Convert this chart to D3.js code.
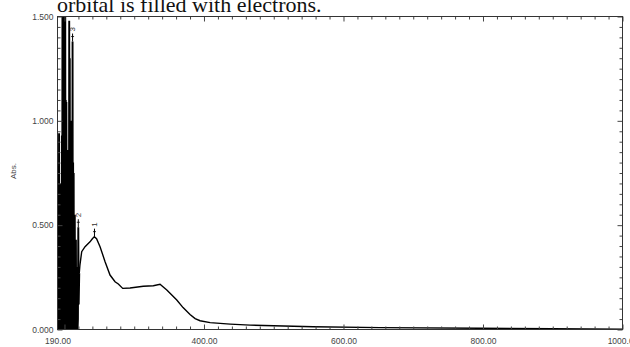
<!DOCTYPE html>
<html>
<head>
<meta charset="utf-8">
<script src="https://cdn.jsdelivr.net/npm/d3@7"></script>
<style>
  body { margin: 0; background: #fff; }
  svg { display: block; }
</style>
</head>
<body>
<div class="spectrum"></div>
<script>
// noisy far-UV region (nm, Abs.)
const noiseWl = [190.0, 190.3, 190.6, 191.0, 191.4, 191.8, 192.2, 192.6, 193.0, 193.4, 193.8, 194.2, 194.6, 195.0,
  195.4, 195.8, 196.3, 196.7, 197.1, 197.5, 197.9, 198.3, 198.7, 199.1, 199.5, 199.9, 200.3, 200.7, 201.1, 201.5,
  201.9, 202.3, 202.7, 203.1, 203.5, 203.9, 204.3, 204.7, 205.1, 205.5, 205.9, 206.3, 206.8, 207.2, 207.6, 208.0,
  208.4, 208.8, 209.2, 209.6, 210.0, 210.4, 210.8, 211.2, 211.6, 212.0, 212.4, 212.8, 213.2, 213.6, 214.0, 214.4,
  214.8, 215.2, 215.6, 216.0, 216.4, 216.8, 217.3, 217.8, 218.3, 218.8, 219.3, 219.8, 220.4, 221.2];
const noiseAbs = [0.00, 0.15, 0.00, 0.17, 0.02, 0.10, 0.94, 0.00, 0.69, 0.03, 0.70, 0.00, 0.66, 0.08,
  0.69, 0.00, 0.93, 0.05, 1.60, 0.00, 1.60, 0.12, 1.60, 0.00, 1.60, 0.25, 1.60, 0.00, 1.55, 0.30,
  1.10, 0.00, 1.09, 0.40, 0.86, 0.00, 0.80, 0.20, 0.86, 0.00, 0.55, 0.05, 1.48, 0.00, 1.30, 0.10,
  0.91, 0.00, 0.88, 0.30, 1.00, 0.00, 0.80, 0.05, 1.38, 0.00, 0.80, 0.10, 0.75, 0.00, 0.55, 0.05,
  0.55, 0.00, 0.43, 0.08, 0.43, 0.00, 0.30, 0.02, 0.12, 0.00, 0.05, 0.49, 0.12, 0.27];

// smooth part of the spectrum
const curveWl = [221.2, 222.2, 224.7, 229.5, 236.6, 240.0, 242.8, 246.0, 251.0, 258.2, 265.3, 272.5, 277.2,
  283.5, 294.0, 313.0, 327.4, 337.0, 346.7, 361.0, 370.0, 380.0, 387.3, 394.4, 408.8, 437.5, 466.2,
  556.6, 652.7, 796.0, 900.0, 1000.0];
const curveAbs = [0.27, 0.31, 0.373, 0.397, 0.42, 0.435, 0.445, 0.435, 0.397, 0.325, 0.261, 0.229, 0.218,
  0.197, 0.199, 0.207, 0.210, 0.217, 0.189, 0.141, 0.105, 0.072, 0.052, 0.042, 0.033, 0.026, 0.021,
  0.013, 0.009, 0.006, 0.004, 0.002];

// picked peaks
const peakWl = [243.0, 219.8, 211.6];
const peakAbs = [0.445, 0.49, 1.38];
const peakLabels = ['1', '2', '3'];

const xLabelValues = [190, 400, 600, 800, 1000];
const yLabelValues = [0, 0.5, 1.0, 1.5];
const titleText = 'orbital is filled with electrons.';

const width = 630;
const height = 347;
const margin = ({ top: 16.5, right: 7.5, bottom: 17.5, left: 57.5 });

const svg = d3.select('.spectrum')
  .append('svg')
  .attr('width', width)
  .attr('height', height)
  .attr('viewBox', [0, 0, width, height]);

const x = d3.scaleLinear([190, 1000], [margin.left, width - margin.right]);
const y = d3.scaleLinear([0, 1.5], [height - margin.bottom, margin.top]);

// cut-off caption line from the page above
svg.append('text')
  .attr('x', 57)
  .attr('y', 12)
  .style('font', '22px "Liberation Serif", "Times New Roman", serif')
  .attr('fill', '#111')
  .text(titleText);

svg.append('clipPath').attr('id', 'plot-clip')
  .append('rect')
  .attr('x', margin.left)
  .attr('y', margin.top)
  .attr('width', width - margin.right - margin.left)
  .attr('height', height - margin.bottom - margin.top);

const line = d3.line()
  .x((d) => x(d[0]))
  .y((d) => y(d[1]));

// noise drawn a bit heavier so it fills in black like the scan
svg.append('path')
  .datum(d3.zip(noiseWl, noiseAbs))
  .attr('clip-path', 'url(#plot-clip)')
  .attr('fill', 'none')
  .attr('stroke', '#000')
  .attr('stroke-width', 1.9)
  .attr('stroke-linejoin', 'miter')
  .attr('d', line);

svg.append('path')
  .datum(d3.zip(curveWl, curveAbs))
  .attr('clip-path', 'url(#plot-clip)')
  .attr('fill', 'none')
  .attr('stroke', '#000')
  .attr('stroke-width', 1.4)
  .attr('d', line);

// ticks every 20 nm / 0.05 Abs, pointing inward on all four sides
const xMinor = d3.range(200, 1001, 20).filter((v) => v % 200 !== 0);
const xMajor = [200, 400, 600, 800, 1000];
const yMinor = d3.range(0, 31).map((i) => i / 20).filter((_, i) => i % 10 !== 0);
const yMajor = [0, 0.5, 1.0, 1.5];

function tickStyle(g) {
  g.select('.domain').remove();
  g.selectAll('.tick line').attr('stroke', '#444');
  g.selectAll('.tick text').remove();
}

const bottomY = height - margin.bottom;
const rightX = width - margin.right;

[[xMinor, 3], [xMajor, 5]].forEach(([vals, len]) => {
  svg.append('g').attr('transform', `translate(0,${bottomY})`)
    .call(d3.axisBottom(x).tickValues(vals).tickSize(-len)).call(tickStyle);
  svg.append('g').attr('transform', `translate(0,${margin.top})`)
    .call(d3.axisTop(x).tickValues(vals).tickSize(-len)).call(tickStyle);
});
[[yMinor, 3], [yMajor, 5]].forEach(([vals, len]) => {
  svg.append('g').attr('transform', `translate(${margin.left},0)`)
    .call(d3.axisLeft(y).tickValues(vals).tickSize(-len)).call(tickStyle);
  svg.append('g').attr('transform', `translate(${rightX},0)`)
    .call(d3.axisRight(y).tickValues(vals).tickSize(-len)).call(tickStyle);
});

// labels
svg.append('g')
  .attr('transform', `translate(0,${bottomY})`)
  .call(d3.axisBottom(x).tickValues(xLabelValues).tickFormat(d3.format('.2f')).tickSize(0).tickPadding(8))
  .call((g) => g.select('.domain').remove())
  .call((g) => g.selectAll('text')
    .style('font', '8.5px "Liberation Sans", Arial, sans-serif')
    .attr('fill', '#444'));

svg.append('g')
  .attr('transform', `translate(${margin.left},0)`)
  .call(d3.axisLeft(y).tickValues(yLabelValues).tickFormat(d3.format('.3f')).tickSize(0).tickPadding(4))
  .call((g) => g.select('.domain').remove())
  .call((g) => g.selectAll('text')
    .style('font', '8.5px "Liberation Sans", Arial, sans-serif')
    .attr('fill', '#444'));

// frame
svg.append('rect')
  .attr('x', margin.left)
  .attr('y', margin.top)
  .attr('width', rightX - margin.left)
  .attr('height', bottomY - margin.top)
  .attr('fill', 'none')
  .attr('stroke', '#333')
  .attr('stroke-width', 1);

svg.append('text')
  .attr('transform', 'translate(16,171) rotate(-90)')
  .attr('text-anchor', 'middle')
  .style('font', '8px "Liberation Sans", Arial, sans-serif')
  .attr('fill', '#444')
  .text('Abs.');

svg.append('text')
  .attr('x', 343)
  .attr('y', 352)
  .attr('text-anchor', 'middle')
  .style('font', '7px "Liberation Sans", Arial, sans-serif')
  .attr('fill', '#777')
  .text('nm');

// peak pick markers
const peaks = svg.append('g').selectAll('g')
  .data(d3.zip(peakWl, peakAbs, peakLabels))
  .join('g')
  .attr('transform', (d) => `translate(${x(d[0])},${y(d[1])})`);

peaks.append('line')
  .attr('y1', 0)
  .attr('y2', -8)
  .attr('stroke', '#000')
  .attr('stroke-width', 1);

peaks.append('line')
  .attr('x1', -1.5)
  .attr('x2', 1.5)
  .attr('y1', -5)
  .attr('y2', -5)
  .attr('stroke', '#000')
  .attr('stroke-width', 0.8);

peaks.append('text')
  .attr('transform', 'translate(0,-10) rotate(-90)')
  .attr('dy', '0.35em')
  .style('font', '8px "Liberation Sans", Arial, sans-serif')
  .attr('fill', '#333')
  .text((d) => d[2]);
</script>
</body>
</html>
